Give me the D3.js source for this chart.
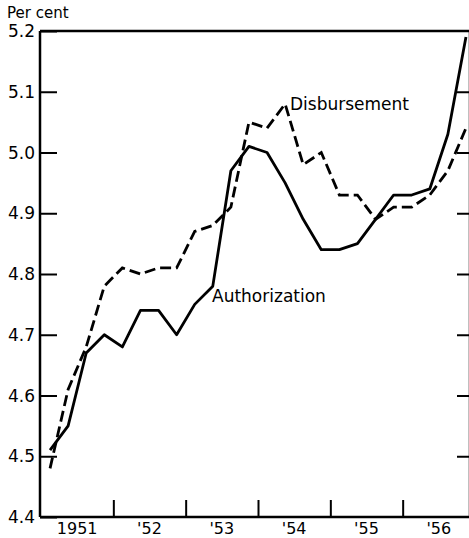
<!DOCTYPE html>
<html>
<head>
<meta charset="utf-8">
<script src="https://cdn.jsdelivr.net/npm/d3@7"></script>
<style>
  body { margin: 0; background: #fff; }
  svg text { font-family: "DejaVu Sans", sans-serif; fill: #000; }
</style>
</head>
<body>
<div id="contents"></div>
<script>
// quarterly observations, 1951 Q1 .. 1956 Q4
const years = [1951, 1952, 1953, 1954, 1955, 1956];
const yearLabels = ["1951", "'52", "'53", "'54", "'55", "'56"];
const quarters = d3.range(24).map(i => years[0] + Math.floor(i / 4) + ((i % 4) + 0.5) / 4);

const authorization = [4.51, 4.55, 4.67, 4.70, 4.68, 4.74, 4.74, 4.70,
                       4.75, 4.78, 4.97, 5.01, 5.00, 4.95, 4.89, 4.84,
                       4.84, 4.85, 4.89, 4.93, 4.93, 4.94, 5.03, 5.19];
const disbursement = [4.48, 4.61, 4.68, 4.78, 4.81, 4.80, 4.81, 4.81,
                      4.87, 4.88, 4.91, 5.05, 5.04, 5.08, 4.98, 5.00,
                      4.93, 4.93, 4.89, 4.91, 4.91, 4.93, 4.97, 5.04];
const yTicks = [4.4, 4.5, 4.6, 4.7, 4.8, 4.9, 5.0, 5.1, 5.2];

const W = 469, H = 538;
const frame = {left: 40, right: 470, top: 31, bottom: 517};

const x = d3.scaleLinear().domain([1951, 1957]).range([41, 475]);
const y = d3.scaleLinear().domain([4.4, 5.2]).range([frame.bottom, frame.top]);

const svg = d3.select("#contents").append("svg")
    .attr("width", W)
    .attr("height", H);

// frame
function rule(x1, y1, x2, y2) {
    svg.append("line")
        .attr("x1", x1).attr("y1", y1).attr("x2", x2).attr("y2", y2)
        .attr("stroke", "#000").attr("stroke-width", 2.5);
}
rule(frame.left, frame.top, W, frame.top);
rule(frame.left, frame.bottom, W, frame.bottom);
rule(frame.left, frame.top, frame.left, frame.bottom);
rule(frame.right, frame.top, frame.right, frame.bottom);

// left axis: ticks inside, labels outside
const yAxisL = d3.axisRight(y).tickValues(yTicks).tickSize(17).tickFormat("");
svg.append("g")
    .attr("transform", "translate(" + frame.left + ",0)")
    .call(yAxisL)
    .call(g => g.select(".domain").remove())
    .call(g => g.selectAll("line").attr("stroke-width", 2));

svg.append("g").selectAll("text")
    .data(yTicks)
    .join("text")
    .attr("x", 35)
    .attr("y", d => y(d))
    .attr("dy", "0.36em")
    .attr("text-anchor", "end")
    .style("font-size", "17px")
    .text(d => d3.format(".1f")(d));

svg.append("text")
    .attr("x", 7)
    .attr("y", 18)
    .style("font-size", "15px")
    .text("Per cent");

// right axis ticks pointing inward
const yAxisR = d3.axisLeft(y).tickValues(yTicks.slice(1, -1)).tickSize(13).tickFormat("");
svg.append("g")
    .attr("transform", "translate(" + frame.right + ",0)")
    .call(yAxisR)
    .call(g => g.select(".domain").remove())
    .call(g => g.selectAll("line").attr("stroke-width", 2));

// bottom axis: year boundaries ticked upward, labels centred in year
const xAxis = d3.axisTop(x).tickValues(years.slice(1)).tickSize(17).tickFormat("");
svg.append("g")
    .attr("transform", "translate(0," + frame.bottom + ")")
    .call(xAxis)
    .call(g => g.select(".domain").remove())
    .call(g => g.selectAll("line").attr("stroke-width", 2));

svg.append("g").selectAll("text")
    .data(years)
    .join("text")
    .attr("x", d => x(d + 0.5))
    .attr("y", 534)
    .attr("text-anchor", "middle")
    .style("font-size", "16px")
    .text((d, i) => yearLabels[i]);

// series
const line = d3.line()
    .x((d, i) => x(quarters[i]))
    .y(d => y(d));

svg.append("path")
    .datum(authorization)
    .attr("d", line)
    .attr("fill", "none")
    .attr("stroke", "#000")
    .attr("stroke-width", 2.8)
    .attr("stroke-linejoin", "round");

svg.append("path")
    .datum(disbursement)
    .attr("d", line)
    .attr("fill", "none")
    .attr("stroke", "#000")
    .attr("stroke-width", 2.8)
    .attr("stroke-dasharray", "11,5");

svg.append("text")
    .attr("x", 290)
    .attr("y", 110)
    .style("font-size", "17px")
    .text("Disbursement");

svg.append("text")
    .attr("x", 212)
    .attr("y", 302)
    .style("font-size", "17px")
    .text("Authorization");
</script>
</body>
</html>
